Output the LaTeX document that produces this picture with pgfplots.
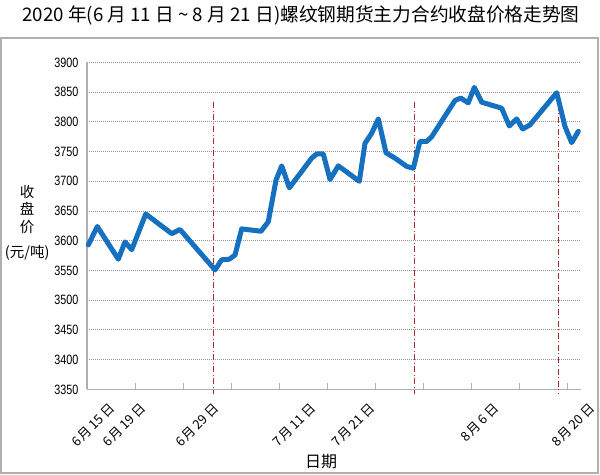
\documentclass[border=0pt]{standalone}
\usepackage{fontspec}
\setmainfont{Noto Sans CJK SC}
\newfontfamily\numfont{Liberation Sans}
\usepackage{pgfplots}
\pgfplotsset{compat=1.18}
\definecolor{lineblue}{RGB}{21,112,192}
\definecolor{markred}{RGB}{170,45,45}
\definecolor{framegray}{RGB}{175,175,175}
\definecolor{gridgray}{RGB}{150,150,150}

\begin{document}
\begin{tikzpicture}
\useasboundingbox (0,0) rectangle (600bp,475bp);
\draw[framegray, line width=1.2bp] (1bp,2bp) rectangle (598bp,437bp);
\node[font=\fontsize{18.7bp}{20bp}\selectfont] at (301bp,460bp)
  {2020 年(6 月 11 日 \textasciitilde{} 8 月 21 日)螺纹钢期货主力合约收盘价格走势图};
\begin{axis}[
  at={(87bp,85.6bp)}, anchor=south west,
  scale only axis, width=494bp, height=327bp,
  clip=false,
  xmin=0, xmax=72, ymin=3350, ymax=3900,
  axis x line*=bottom, axis y line*=left,
  axis line style={draw=framegray, line width=1.5bp, -},
  ytick={3350,3400,...,3900},
  ytick style={draw=none},
  yticklabel={\scalebox{0.8}[1]{\numfont\pgfmathprintnumber[assume math mode=true,1000 sep=]{\tick}}},
  yticklabel style={font=\fontsize{13.5bp}{14bp}\selectfont, xshift=-5bp},
  ymajorgrids,
  grid style={draw=gridgray, line width=1bp, dash pattern=on 1bp off 1bp},
  xtick={7,14,...,70},
  xticklabels={},
  xtick align=inside,
  xtick style={draw=framegray, line width=1bp},
  major tick length=6bp,
  extra x ticks={0.77,5.29,15.93,30.07,38.66,56.74,70.73},
  extra x tick labels={6\,月\,15\,日,6\,月\,19\,日,6\,月\,29\,日,7\,月\,11\,日,7\,月\,21\,日,8\,月\,6\,日,8\,月\,20\,日},
  extra x tick style={major tick length=0pt, xmajorgrids=false,
    xticklabel style={rotate=45, anchor=east, xshift=5.7bp, yshift=-26bp,
      font=\fontsize{13bp}{14bp}\selectfont}},
  xlabel={日期},
  xlabel style={at={(axis description cs:0.474,-0.222)}, anchor=center,
    font=\fontsize{16bp}{18bp}\selectfont},
  ylabel={收\\盘\\价\\[8bp](元/吨)},
  ylabel style={rotate=-90, align=center, at={(axis description cs:-0.121,0.509)},
    anchor=center, font=\fontsize{14.5bp}{17.5bp}\selectfont},
]
% dash-dot markers
\addplot[markred, line width=1bp, dash pattern=on 6bp off 2.5bp on 1bp off 2.5bp]
  coordinates {(18.51,3833) (18.51,3343)};
\addplot[markred, line width=1bp, dash pattern=on 6bp off 2.5bp on 1bp off 2.5bp]
  coordinates {(47.66,3833) (47.66,3343)};
\addplot[markred, line width=1bp, dash pattern=on 6bp off 2.5bp on 1bp off 2.5bp]
  coordinates {(68.65,3849) (68.65,3343)};
% closing price
\addplot[lineblue, line width=5bp, line join=round, line cap=round] coordinates {
  (0.19,3593) (1.50,3624) (4.56,3569) (5.54,3598) (6.52,3585) (8.56,3645)
  (12.35,3612) (13.55,3619) (18.66,3551) (19.63,3568) (20.74,3569) (21.57,3576)
  (22.55,3620) (25.36,3616) (26.42,3632) (27.55,3702) (28.38,3726) (29.49,3689)
  (32.75,3739) (33.48,3746) (34.44,3746) (35.42,3703) (36.63,3726) (39.69,3700)
  (40.52,3764) (41.50,3781) (42.46,3805) (43.58,3748) (44.89,3739) (46.60,3725)
  (47.56,3722) (48.53,3767) (49.51,3767) (50.24,3775) (53.64,3836) (54.47,3840)
  (55.57,3832) (56.45,3858) (57.53,3833) (60.44,3823) (61.55,3793) (62.63,3805)
  (63.50,3788) (64.57,3795) (68.46,3849) (69.67,3792) (70.64,3765) (71.61,3784)
};
\end{axis}
\end{tikzpicture}
\end{document}
